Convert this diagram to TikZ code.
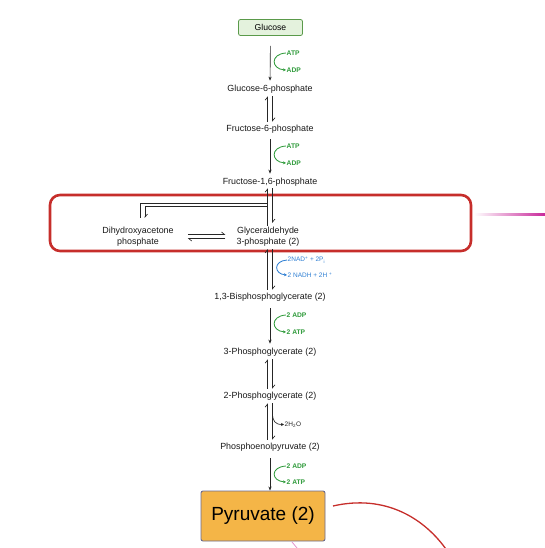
\documentclass[tikz,border=0pt]{standalone}
\usepackage{fontspec}
\setmainfont{Liberation Sans}
\usetikzlibrary{arrows.meta,calc}
\definecolor{cgreen}{HTML}{2E9A3A}
\definecolor{cblue}{HTML}{2F7FD3}
\definecolor{cred}{HTML}{C62E2B}
\definecolor{glcfill}{HTML}{E4F2DD}
\definecolor{glcdraw}{HTML}{5A9A4A}
\definecolor{pyrfill}{HTML}{F4B547}
\definecolor{pyrdraw}{HTML}{6A6A8E}
\definecolor{cmag}{HTML}{C8289A}
\begin{document}
\begin{tikzpicture}[x=1pt,y=-1pt,
  lbl/.style={inner sep=1pt, font=\fontsize{8.9}{10.5}\selectfont, text=black!90, align=center},
  side/.style={inner sep=0.5pt, anchor=west, font=\fontsize{6.5}{7.5}\selectfont},
  grn/.style={side, text=cgreen, font=\fontsize{6.7}{7.5}\selectfont\bfseries},
  blu/.style={side, text=cblue},
  plain/.style={draw=black!85, line width=0.65pt},
  rxn/.style={plain, -{Stealth[length=4pt,width=3.2pt]}},
  eqv/.style={plain, -{Straight Barb[harpoon,length=3pt,width=5pt]}},
  sidegrn/.style={draw=cgreen, line width=0.85pt, -{Stealth[length=3pt,width=3pt]}},
  sideblu/.style={draw=cblue, line width=0.85pt, -{Stealth[length=3pt,width=3pt]}},
  sideblk/.style={draw=black!85, line width=0.65pt, -{Stealth[length=3pt,width=3pt]}},
  glcbox/.style={draw=glcdraw, fill=glcfill, line width=0.8pt, rounded corners=2pt,
    minimum width=64pt, minimum height=16pt, inner sep=1pt, font=\fontsize{8.6}{10}\selectfont},
  pyrbox/.style={draw=pyrdraw, fill=pyrfill, line width=0.9pt, rounded corners=2pt,
    minimum width=124pt, minimum height=50pt, font=\fontsize{19}{22}\selectfont},
  hlbox/.style={draw=cred, line width=2.6pt, rounded corners=10pt}
]
\useasboundingbox (0,0) rectangle (545,548);

% nodes
\node[glcbox] (glc) at (270.5,27.5) {Glucose};
\node[lbl] (g6p) at (270,89) {Glucose-6-phosphate};
\node[lbl] (f6p) at (270,129) {Fructose-6-phosphate};
\node[lbl] (f16p) at (270,182) {Fructose-1,6-phosphate};
\node[lbl] (dhap) at (138,236.5) {Dihydroxyacetone\\phosphate};
\node[lbl] (g3p) at (268,236.5) {Glyceraldehyde\\3-phosphate (2)};
\node[lbl] (bpg) at (270,297) {1,3-Bisphosphoglycerate (2)};
\node[lbl] (pg3) at (270,352) {3-Phosphoglycerate (2)};
\node[lbl] (pg2) at (270,396) {2-Phosphoglycerate (2)};
\node[lbl] (pep) at (270,447) {Phosphoenolpyruvate (2)};
\node[pyrbox] (pyr) at (263,516) {Pyruvate (2)};

% side labels
\node[grn] (atp1) at (286,53) {ATP};
\node[grn] (adp1) at (286,70) {ADP};
\node[grn] (atp2) at (286,146) {ATP};
\node[grn] (adp2) at (286,163) {ADP};
\node[blu] (nad) at (287,260) {2NAD\textsuperscript{+} + 2P\textsubscript{i}};
\node[blu] (nadh) at (287,275) {2 NADH + 2H \textsuperscript{+}};
\node[grn] (adp3) at (286,315) {2 ADP};
\node[grn] (atp3) at (286,332) {2 ATP};
\node[side, text=black!85] (h2o) at (284,424.5) {2H\textsubscript{2}O};
\node[grn] (adp4) at (286,466) {2 ADP};
\node[grn] (atp4) at (286,482) {2 ATP};

% highlight frame and its connector
\draw[hlbox] (50,195) rectangle (471,251);
\shade[left color=white, right color=cmag] (474,213.2) rectangle (545,215.2);

% main axis
\draw[rxn, shorten <=10pt, shorten >=3pt] (glc.south) -- (g6p.north);
\draw[sidegrn] (atp1.west) .. controls +(-16,1) and +(-15,-1) .. (adp1.west);

\draw[eqv, shorten <=2pt, shorten >=2pt] ([xshift=-2.5pt]f6p.north) -- ([xshift=-2.5pt]g6p.south);
\draw[eqv, shorten <=2pt, shorten >=2pt] ([xshift=2.5pt]g6p.south) -- ([xshift=2.5pt]f6p.north);

\draw[rxn, shorten <=5pt, shorten >=3pt] (f6p.south) -- (f16p.north);
\draw[sidegrn] (atp2.west) .. controls +(-16,1) and +(-15,-1) .. (adp2.west);

% split of fructose-1,6-phosphate
\coordinate (jo) at (267.5,203);
\coordinate (ji) at (267.5,206);
\draw[eqv, shorten <=1pt] ([xshift=-2.5pt,yshift=-1pt]f16p.south |- g3p.north) -- ([xshift=-2.5pt,yshift=-1pt]f16p.south);
\draw[eqv, shorten >=3pt] ([xshift=2.5pt,yshift=-1pt]f16p.south) -- ([xshift=2.5pt]f16p.south |- g3p.north);
\draw[plain] ([xshift=2pt,yshift=8pt]dhap.north) |- (jo);
\draw[eqv] (ji) -| ([xshift=7pt,yshift=8pt]dhap.north);

% dhap <-> g3p
\draw[eqv] ($(dhap.east)+(13,-2)$) -- ($(g3p.west)+(-10,-2)$);
\draw[eqv] ($(g3p.west)+(-10,2)$) -- ($(dhap.east)+(13,2)$);

% g3p <-> bpg
\draw[eqv, shorten <=2pt, shorten >=2pt] ([xshift=-2.5pt]bpg.north) -- ([xshift=-2.5pt]bpg.north |- g3p.south);
\draw[eqv, shorten <=2pt, shorten >=2pt] ([xshift=2.5pt]bpg.north |- g3p.south) -- ([xshift=2.5pt]bpg.north);
\draw[sideblu] (nad.west) .. controls +(-14,1) and +(-13,-1) .. (nadh.west);

% bpg -> 3pg
\draw[rxn, shorten <=6pt, shorten >=3pt] (bpg.south) -- (pg3.north);
\draw[sidegrn] (adp3.west) .. controls +(-16,1) and +(-15,-1) .. (atp3.west);

% 3pg <-> 2pg
\draw[eqv, shorten <=2pt, shorten >=2pt] ([xshift=-2.5pt]pg2.north) -- ([xshift=-2.5pt]pg3.south);
\draw[eqv, shorten <=2pt, shorten >=2pt] ([xshift=2.5pt]pg3.south) -- ([xshift=2.5pt]pg2.north);

% 2pg <-> pep
\draw[eqv, shorten <=2pt, shorten >=2pt] ([xshift=-2.5pt]pep.north) -- ([xshift=-2.5pt]pg2.south);
\draw[eqv, shorten <=2pt, shorten >=2pt] ([xshift=2.5pt]pg2.south) -- ([xshift=2.5pt]pep.north);
\coordinate (hs) at (272.5,413);
\draw[sideblk] (hs) .. controls (272.5,421) and (275,424.5) .. (h2o.west);

% pep -> pyruvate
\draw[rxn, shorten <=6pt] (pep.south) -- (pep.south |- pyr.north);
\draw[sidegrn] (adp4.west) .. controls +(-16,1) and +(-15,-1) .. (atp4.west);

% decorative curve
\draw[cred, line width=1.3pt] (333,506) .. controls (385,494) and (425,518) .. (448,552);
\draw[cmag!50, line width=0.8pt] (292,542) -- (297,548);
\end{tikzpicture}
\end{document}
